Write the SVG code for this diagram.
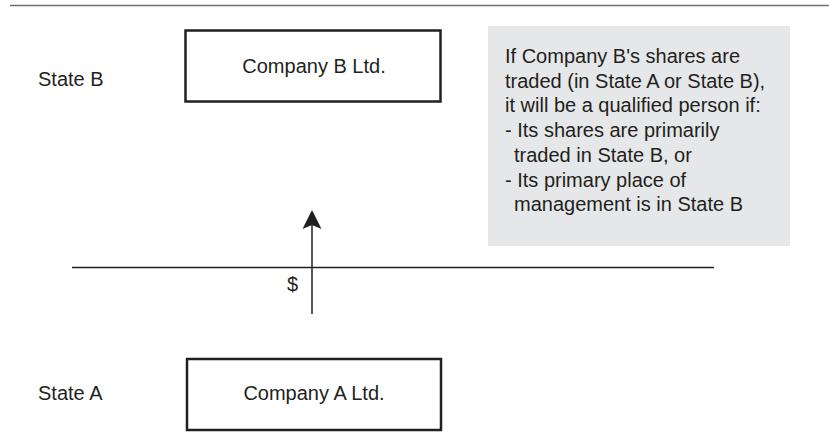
<svg xmlns="http://www.w3.org/2000/svg" width="829" height="445" viewBox="0 0 829 445">
  <style>
    text { font-family: "Liberation Sans", Arial, sans-serif; font-size: 20px; fill: #231f20; }
    .box { fill: #ffffff; stroke: #231f20; stroke-width: 2.5; }
    .note { fill: #e6e7e8; }
    .line { stroke: #231f20; stroke-width: 1.5; fill: none; }
    .mid { text-anchor: middle; }
  </style>
  <defs>
    <marker id="arrow" markerWidth="20" markerHeight="20" refX="10" refY="1" orient="auto-start-reverse" markerUnits="userSpaceOnUse" viewBox="0 0 20 20">
      <path d="M10,1 L19.5,20 L10,16 L0.5,20 Z" fill="#231f20"/>
    </marker>
  </defs>

  <line x1="10" y1="5.5" x2="829" y2="5.5" stroke="#6d6e71" stroke-width="1.5"/>

  <g id="label-state-b"><text x="38" y="86">State B</text></g>
  <g id="label-state-a"><text x="38" y="400">State A</text></g>

  <g id="company-b">
    <rect class="box" x="185.5" y="30.5" width="255" height="71"/>
    <text class="mid" x="314" y="73">Company B Ltd.</text>
  </g>

  <g id="company-a">
    <rect class="box" x="187" y="359" width="254" height="71"/>
    <text class="mid" x="314" y="400">Company A Ltd.</text>
  </g>

  <g id="note">
    <rect class="note" x="488" y="26" width="302" height="220"/>
    <text x="505" y="63">If Company B's shares are</text>
    <text x="505" y="87.7">traded (in State A or State B),</text>
    <text x="505" y="112.4">it will be a qualified person if:</text>
    <text x="505" y="137.1">- Its shares are primarily</text>
    <text x="514" y="161.8">traded in State B, or</text>
    <text x="505" y="186.5">- Its primary place of</text>
    <text x="514" y="211.2">management is in State B</text>
  </g>

  <g id="connectors">
    <line class="line" x1="72" y1="267.5" x2="714" y2="267.5"/>
    <line class="line" x1="312" y1="314" x2="312" y2="224"/>
    <path d="M312,210 L321.5,229 L312,225 L302.5,229 Z" fill="#231f20"/>
    <text class="mid" x="292.5" y="291">$</text>
  </g>
</svg>
